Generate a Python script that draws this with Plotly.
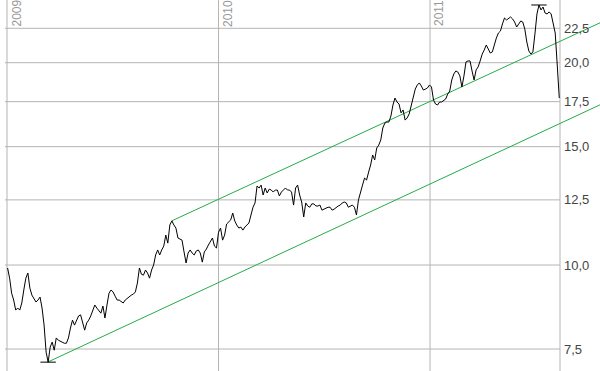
import math
import pandas as pd
import plotly.graph_objects as go

# ---- data ----
price_start = "2009-01-02"
price_step = "84h"  # two closes per week
prices = [
    9.90, 9.56, 9.08, 8.87, 8.57, 8.63, 8.57, 8.78, 9.18, 9.56,
    9.73, 9.24, 9.02, 8.90, 8.81, 8.87, 8.96, 8.63, 8.14, 7.42,
    7.17, 7.55, 7.68, 7.47, 7.79, 7.73, 7.70, 7.68, 7.65, 7.65,
    7.79, 8.06, 8.28, 8.14, 8.28, 8.40, 8.43, 8.20, 8.00, 8.20,
    8.28, 8.40, 8.57, 8.72, 8.63, 8.54, 8.48, 8.69, 8.34, 8.72,
    9.08, 9.18, 9.12, 8.99, 8.87, 8.87, 8.81, 8.78, 8.87, 8.93,
    8.96, 9.02, 9.05, 9.12, 9.40, 9.90, 9.69, 9.66, 9.83, 9.73,
    9.56, 9.83, 10.00, 10.35, 10.53, 10.35, 10.53, 10.67, 11.08, 10.78,
    11.47, 11.63, 11.47, 11.35, 10.97, 10.93, 10.89, 10.46, 10.07, 10.42,
    10.53, 10.42, 10.35, 10.49, 10.53, 10.42, 10.10, 10.46, 10.56, 10.71,
    10.82, 10.97, 10.67, 10.60, 11.19, 11.35, 10.89, 11.08, 11.51, 11.59,
    11.67, 11.95, 11.63, 11.47, 11.35, 11.39, 11.27, 11.39, 11.47, 11.55,
    11.87, 12.19, 12.37, 13.11, 13.02, 13.15, 12.71, 13.02, 12.80, 12.97,
    12.93, 12.84, 12.93, 12.93, 12.67, 12.84, 12.93, 13.02, 12.93, 12.93,
    12.84, 12.28, 13.02, 13.15, 12.71, 12.41, 11.79, 12.37, 12.24, 12.19,
    12.33, 12.33, 12.24, 12.24, 12.28, 12.07, 12.11, 12.15, 12.19, 12.19,
    12.07, 12.11, 12.19, 12.24, 12.28, 12.37, 12.41, 12.37, 12.19, 12.24,
    12.28, 12.19, 11.87, 12.50, 12.89, 13.15, 13.47, 13.38, 13.75, 14.09,
    14.58, 14.33, 14.93, 15.08, 15.35, 15.99, 16.26, 16.32, 16.32, 16.66,
    17.30, 17.72, 17.48, 17.36, 16.84, 17.01, 16.43, 16.55, 16.78, 17.30,
    17.84, 18.27, 18.53, 18.66, 18.46, 18.21, 18.27, 18.34, 18.53, 18.40,
    17.60, 17.36, 17.30, 17.48, 17.48, 17.60, 17.66, 17.96, 18.15, 18.85,
    19.24, 19.44, 19.37, 19.11, 18.40, 19.11, 20.05, 20.12, 20.12, 19.44,
    18.85, 19.51, 19.71, 20.12, 20.60, 20.89, 21.25, 20.96, 20.67, 20.75,
    21.33, 21.77, 22.14, 22.29, 22.84, 23.31, 23.15, 23.31, 23.39, 23.23,
    22.99, 22.60, 22.84, 23.07, 22.99, 22.45, 21.47, 20.82, 20.60, 20.75,
    22.07, 23.63, 24.37, 23.96, 24.20, 23.71, 23.63, 23.80, 23.63, 22.99,
    22.14, 19.84, 17.72,
]

tick_values = [7.5, 10.0, 12.5, 15.0, 17.5, 20.0, 22.5]
tick_labels = ["7,5", "10,0", "12,5", "15,0", "17,5", "20,0", "22,5"]
year_dates = ["2009-01-01", "2010-01-01", "2011-01-01"]
year_labels = ["2009", "2010", "2011"]

lower_channel_dates = ["2009-03-12", "2011-11-07"]
lower_channel_values = [7.17, 17.58]
upper_channel_dates = ["2009-10-12", "2011-11-07"]
upper_channel_values = [11.63, 23.28]

x_range = ["2008-12-28 13:00", "2011-10-21 07:00"]
chart_end = "2011-08-13 07:00"
y_range_values = [6.956, 24.79]

# ---- figure ----
dates = pd.date_range(price_start, periods=len(prices), freq=price_step)
price_series = pd.Series(prices, index=dates)

GRID = "#b4b4b4"
GREEN = "#23ad47"

fig = go.Figure()

# horizontal grid lines (stop at the chart border, not at the window edge)
gx, gy = [], []
for v in tick_values:
    gx += [x_range[0], chart_end, None]
    gy += [v, v, None]
fig.add_trace(go.Scatter(x=gx, y=gy, mode="lines",
                         line=dict(color=GRID, width=1), hoverinfo="skip"))

# channel lines
fig.add_trace(go.Scatter(x=lower_channel_dates, y=lower_channel_values, mode="lines",
                         line=dict(color=GREEN, width=1)))
fig.add_trace(go.Scatter(x=upper_channel_dates, y=upper_channel_values, mode="lines",
                         line=dict(color=GREEN, width=1)))

# price
fig.add_trace(go.Scatter(x=dates, y=prices, mode="lines",
                         line=dict(color="black", width=1)))

# high / low markers
fig.add_trace(go.Scatter(
    x=[price_series.idxmin(), price_series.idxmax()],
    y=[price_series.min(), price_series.max()],
    mode="markers",
    marker=dict(symbol="line-ew", size=11, line=dict(color="black", width=1)),
))

shapes = []
for d in year_dates + [chart_end]:
    shapes.append(dict(type="line", xref="x", yref="paper", x0=d, x1=d, y0=0, y1=1,
                       line=dict(color=GRID, width=1), layer="below"))

annotations = []
for v, t in zip(tick_values, tick_labels):
    annotations.append(dict(x=chart_end, y=math.log10(v), xref="x", yref="y",
                            text=t, showarrow=False, xanchor="left", yanchor="middle",
                            xshift=2, font=dict(family="Liberation Sans, Arial", size=13,
                                                color="#444444")))
for d, t in zip(year_dates, year_labels):
    annotations.append(dict(x=d, y=1, xref="x", yref="paper", text=t, showarrow=False,
                            textangle=-90, xanchor="left", yanchor="top", xshift=0, yshift=2,
                            font=dict(family="Liberation Sans, Arial", size=12,
                                      color="#999999")))

fig.update_layout(
    width=600, height=371,
    margin=dict(l=5, r=0, t=0, b=0),
    paper_bgcolor="white", plot_bgcolor="white",
    showlegend=False,
    shapes=shapes, annotations=annotations,
    xaxis=dict(type="date", range=x_range, visible=False, showgrid=False, zeroline=False),
    yaxis=dict(type="log", range=[math.log10(y_range_values[0]), math.log10(y_range_values[1])],
               visible=False, showgrid=False, zeroline=False),
)

fig.write_html("out.html",
               config={"displayModeBar": False},
               post_script="document.body.style.margin='0';document.body.style.overflow='hidden';")
